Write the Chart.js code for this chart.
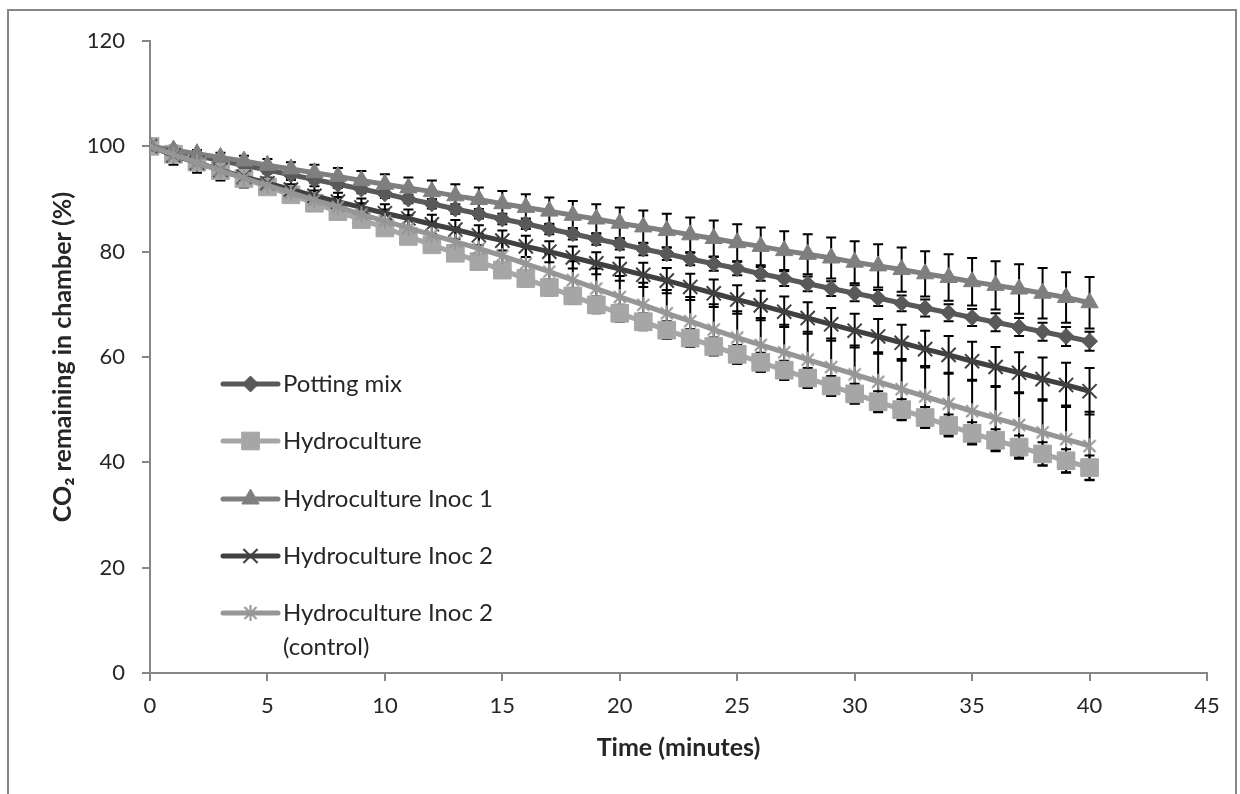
<!DOCTYPE html>
<html>
<head>
<meta charset="utf-8">
<script src="https://cdn.jsdelivr.net/npm/chart.js@4.4.1/dist/chart.umd.min.js"></script>
<style>
  html, body { margin: 0; padding: 0; background: #fff; }
  canvas { display: block; }
</style>
</head>
<body>
<canvas id="co2-chart" width="1240" height="794"></canvas>
<script>
// time axis (minutes)
const minutes = [0, 1, 2, 3, 4, 5, 6, 7, 8, 9, 10, 11, 12, 13, 14, 15, 16, 17, 18, 19, 20,
  21, 22, 23, 24, 25, 26, 27, 28, 29, 30, 31, 32, 33, 34, 35, 36, 37, 38, 39, 40];

// CO2 remaining in chamber (%)
const pottingMix = [100, 99.1, 98.2, 97.3, 96.4, 95.5, 94.6, 93.7, 92.8, 91.9, 91.0, 90.0, 89.1, 88.1, 87.2, 86.2,
  85.3, 84.3, 83.4, 82.4, 81.5, 80.5, 79.6, 78.6, 77.7, 76.8, 75.8, 74.9, 73.9, 73.0, 72.1, 71.2, 70.2, 69.3,
  68.4, 67.5, 66.6, 65.7, 64.8, 63.9, 63.0];
const hydroculture = [100, 98.5, 97.0, 95.4, 93.9, 92.3, 90.8, 89.2, 87.6, 86.1, 84.5, 82.9, 81.3, 79.7, 78.1,
  76.5, 74.9, 73.2, 71.6, 69.9, 68.3, 66.7, 65.1, 63.6, 62.0, 60.5, 59.0, 57.5, 56.0, 54.5, 53.0, 51.5, 50.0,
  48.5, 47.0, 45.5, 44.2, 42.9, 41.6, 40.3, 39.0];
const inoc1 = [100, 99.3, 98.6, 97.9, 97.2, 96.4, 95.7, 95.0, 94.3, 93.5, 92.8, 92.1, 91.4, 90.6, 89.9, 89.1,
  88.4, 87.7, 86.9, 86.2, 85.4, 84.7, 84.0, 83.2, 82.5, 81.7, 81.0, 80.2, 79.5, 78.8, 78.0, 77.3, 76.6, 75.8,
  75.1, 74.3, 73.6, 72.9, 72.1, 71.3, 70.3];
const inoc2 = [100, 98.3, 96.9, 95.5, 94.2, 93.0, 91.8, 90.6, 89.5, 88.4, 87.3, 86.3, 85.2, 84.2, 83.1, 82.1,
  81.0, 80.0, 78.9, 77.8, 76.7, 75.6, 74.5, 73.3, 72.1, 70.9, 69.8, 68.6, 67.4, 66.2, 65.0, 63.9, 62.7, 61.5,
  60.4, 59.2, 58.1, 57.0, 55.8, 54.7, 53.5];
const inoc2Control = [100, 98.4, 96.9, 95.4, 94.0, 92.6, 91.2, 89.8, 88.5, 87.1, 85.8, 84.5, 83.2, 81.9, 80.6,
  79.2, 77.7, 76.2, 74.6, 73.0, 71.4, 69.9, 68.3, 66.8, 65.2, 63.7, 62.3, 60.9, 59.5, 58.1, 56.7, 55.3, 53.9,
  52.5, 51.1, 49.7, 48.4, 47.1, 45.7, 44.4, 43.1];

// error bar half-lengths (± %)
const pottingMixErr = [0, 0.3, 0.4, 0.5, 0.5, 0.6, 0.6, 0.7, 0.7, 0.8, 0.8, 0.8, 0.9, 0.9, 0.9, 1.0, 1.0, 1.0,
  1.1, 1.1, 1.1, 1.2, 1.2, 1.2, 1.3, 1.3, 1.3, 1.4, 1.4, 1.4, 1.5, 1.5, 1.5, 1.6, 1.6, 1.6, 1.7, 1.7, 1.7, 1.8, 1.8];
const hydrocultureErr = [0, 0.8, 0.9, 1.0, 1.0, 1.1, 1.1, 1.2, 1.2, 1.2, 1.3, 1.3, 1.3, 1.4, 1.4, 1.4, 1.5, 1.5,
  1.5, 1.6, 1.6, 1.6, 1.7, 1.7, 1.7, 1.8, 1.8, 1.8, 1.9, 1.9, 1.9, 2.0, 2.0, 2.0, 2.1, 2.1, 2.1, 2.2, 2.2, 2.2, 2.3];
const inoc1Err = [0, 0.5, 0.7, 0.9, 1.0, 1.2, 1.3, 1.5, 1.6, 1.8, 1.9, 2.0, 2.1, 2.2, 2.3, 2.4, 2.5, 2.6, 2.7,
  2.8, 3.0, 3.1, 3.2, 3.3, 3.4, 3.5, 3.6, 3.7, 3.8, 3.9, 4.0, 4.1, 4.2, 4.3, 4.4, 4.5, 4.6, 4.7, 4.8, 4.8, 4.9];
const inoc2Err = [0, 1.8, 1.9, 2.0, 2.0, 1.9, 1.8, 1.8, 1.7, 1.7, 1.7, 1.7, 1.8, 1.8, 1.9, 1.9, 2.0, 2.0, 2.1,
  2.1, 2.2, 2.3, 2.4, 2.5, 2.6, 2.7, 2.8, 2.9, 3.0, 3.1, 3.2, 3.3, 3.4, 3.5, 3.6, 3.7, 3.8, 3.9, 4.1, 4.2, 4.4];
const inoc2ControlErr = [0, 0.8, 1.0, 1.2, 1.3, 1.5, 1.6, 1.8, 1.9, 2.1, 2.2, 2.4, 2.5, 2.7, 2.8, 3.0, 3.2, 3.4,
  3.6, 3.8, 4.0, 4.2, 4.4, 4.6, 4.8, 5.0, 5.1, 5.2, 5.3, 5.4, 5.5, 5.6, 5.7, 5.8, 5.9, 6.0, 6.1, 6.2, 6.3, 6.4, 6.5];

const xTicks = [0, 5, 10, 15, 20, 25, 30, 35, 40, 45];
const yTicks = [0, 20, 40, 60, 80, 100, 120];

const FONT = "Lato, 'Open Sans', 'Noto Sans', sans-serif";
const AXIS_GREY = '#868686';
const TEXT = '#262626';

// Excel-style asterisk marker (X plus vertical stroke)
function asteriskMarker(color, size) {
  const c = document.createElement('canvas');
  c.width = size;
  c.height = size;
  const g = c.getContext('2d');
  const m = size / 2, r = size / 2 - 1, d = r * 0.75;
  g.strokeStyle = color;
  g.lineWidth = 2;
  g.beginPath();
  g.moveTo(m, m - r); g.lineTo(m, m + r);
  g.moveTo(m - d, m - d); g.lineTo(m + d, m + d);
  g.moveTo(m + d, m - d); g.lineTo(m - d, m + d);
  g.stroke();
  return c;
}

function toPoints(ys) {
  return minutes.map((t, i) => ({ x: t, y: ys[i] }));
}

function series(label, ys, errs, color, style, radius, order) {
  return {
    label,
    data: toPoints(ys),
    errors: errs,
    borderColor: color,
    backgroundColor: color,
    borderWidth: 5,
    pointStyle: style,
    pointRadius: radius,
    pointBorderWidth: style === 'crossRot' ? 2 : 1,
    pointBackgroundColor: color,
    pointBorderColor: color,
    tension: 0,
    order,
  };
}

const datasets = [
  series('Potting mix', pottingMix, pottingMixErr, '#595959', 'rectRot', 8, 4),
  series('Hydroculture', hydroculture, hydrocultureErr, '#a6a6a6', 'rect', 12.5, 3),
  series('Hydroculture Inoc 1', inoc1, inoc1Err, '#7f7f7f', 'triangle', 10, 2),
  series('Hydroculture Inoc 2', inoc2, inoc2Err, '#404040', 'crossRot', 10, 1),
  series('Hydroculture Inoc 2 (control)', inoc2Control, inoc2ControlErr, '#969696', asteriskMarker('#969696', 18), 9, 0),
];

const frame = {
  id: 'frame',
  beforeDraw(chart) {
    const ctx = chart.ctx;
    ctx.save();
    ctx.fillStyle = '#fff';
    ctx.fillRect(0, 0, chart.width, chart.height);
    ctx.strokeStyle = AXIS_GREY;
    ctx.lineWidth = 2;
    ctx.strokeRect(8, 10, 1228, 820);
    ctx.restore();
  },
};

// vertical error bars with caps, drawn under lines and markers
const errorBars = {
  id: 'errorBars',
  beforeDatasetsDraw(chart) {
    const ctx = chart.ctx;
    const y = chart.scales.y;
    ctx.save();
    ctx.strokeStyle = '#000';
    ctx.lineWidth = 2;
    chart.data.datasets.forEach((ds, i) => {
      const meta = chart.getDatasetMeta(i);
      meta.data.forEach((pt, j) => {
        const e = ds.errors[j];
        if (!e) return;
        const v = ds.data[j].y;
        const top = y.getPixelForValue(v + e);
        const bot = y.getPixelForValue(v - e);
        ctx.beginPath();
        ctx.moveTo(pt.x, top); ctx.lineTo(pt.x, bot);
        ctx.moveTo(pt.x - 5, top); ctx.lineTo(pt.x + 5, top);
        ctx.moveTo(pt.x - 5, bot); ctx.lineTo(pt.x + 5, bot);
        ctx.stroke();
      });
    });
    ctx.restore();
  },
};

// legend inside the plot area, one entry per row
const insideLegend = {
  id: 'insideLegend',
  afterDraw(chart) {
    const ctx = chart.ctx;
    const x0 = 223, x1 = 278, tx = 283, maxW = 240;
    const rows = [384, 441, 499, 556, 613];
    ctx.save();
    ctx.font = '24px ' + FONT;
    ctx.textBaseline = 'middle';
    ctx.textAlign = 'left';
    chart.data.datasets.forEach((ds, i) => {
      const cy = rows[i];
      ctx.strokeStyle = ds.borderColor;
      ctx.lineWidth = 5;
      ctx.lineCap = 'round';
      ctx.beginPath();
      ctx.moveTo(x0, cy); ctx.lineTo(x1, cy);
      ctx.stroke();
      ctx.lineCap = 'butt';
      ctx.fillStyle = ds.pointBackgroundColor;
      ctx.strokeStyle = ds.pointBorderColor;
      ctx.lineWidth = ds.pointBorderWidth;
      Chart.helpers.drawPoint(ctx, {
        pointStyle: ds.pointStyle, radius: ds.pointRadius, rotation: 0, borderWidth: ds.pointBorderWidth,
      }, (x0 + x1) / 2, cy);

      // simple word wrap
      const words = ds.label.split(' ');
      const lines = [];
      let cur = '';
      words.forEach(w => {
        const test = cur ? cur + ' ' + w : w;
        if (ctx.measureText(test).width > maxW && cur) { lines.push(cur); cur = w; } else { cur = test; }
      });
      lines.push(cur);
      ctx.fillStyle = TEXT;
      lines.forEach((l, k) => ctx.fillText(l, tx, cy + k * 34));
    });
    ctx.restore();
  },
};

new Chart(document.getElementById('co2-chart'), {
  type: 'line',
  data: { datasets },
  plugins: [frame, errorBars, insideLegend],
  options: {
    responsive: false,
    animation: false,
    devicePixelRatio: 1,
    layout: { padding: { left: 0, top: 41, right: 33, bottom: 0 } },
    plugins: {
      legend: { display: false },
      tooltip: { enabled: false },
    },
    scales: {
      x: {
        type: 'linear',
        min: 0,
        max: 45,
        afterBuildTicks: (s) => { s.ticks = xTicks.map(v => ({ value: v })); },
        afterFit: (s) => { s.height = 121; },
        border: { color: AXIS_GREY, width: 2 },
        grid: { drawOnChartArea: false, drawTicks: true, tickLength: 8, color: AXIS_GREY, lineWidth: 2 },
        ticks: { autoSkip: false, maxRotation: 0, padding: 12, color: TEXT, font: { family: FONT, size: 22 } },
        title: {
          display: true,
          text: 'Time (minutes)',
          color: TEXT,
          font: { family: FONT, size: 25, weight: 'bold' },
          padding: { top: 0, bottom: 31 },
        },
      },
      y: {
        min: 0,
        max: 120,
        afterBuildTicks: (s) => { s.ticks = yTicks.map(v => ({ value: v })); },
        afterFit: (s) => { s.width = 150; },
        border: { color: AXIS_GREY, width: 2 },
        grid: { drawOnChartArea: false, drawTicks: true, tickLength: 8, color: AXIS_GREY, lineWidth: 2 },
        ticks: { padding: 17, color: TEXT, font: { family: FONT, size: 22 } },
        title: {
          display: true,
          text: 'CO₂ remaining in chamber (%)',
          color: TEXT,
          font: { family: FONT, size: 25, weight: 'bold' },
          padding: { top: 48, bottom: 0 },
        },
      },
    },
  },
});
</script>
</body>
</html>
